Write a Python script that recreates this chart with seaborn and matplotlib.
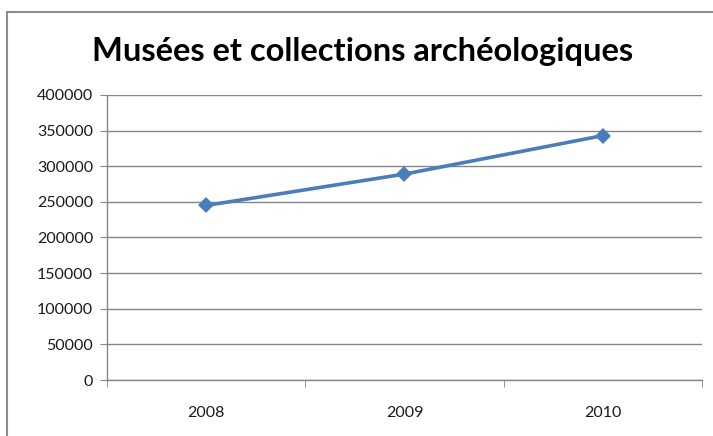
import matplotlib.pyplot as plt
import seaborn as sns
from matplotlib.patches import Rectangle
from matplotlib.ticker import FixedLocator

# Data
years = ['2008', '2009', '2010']
visiteurs = [245000, 289000, 343000]
title = 'Musées et collections archéologiques'

sns.set_style('white')
plt.rcParams['font.family'] = ['Lato', 'DejaVu Sans']

fig = plt.figure(figsize=(7.13, 4.36), dpi=100)

# Cadre du graphique (style Excel)
fig.patches.append(Rectangle((7 / 713, -0.1), 1.2, (436 - 12) / 436 + 0.1,
                             transform=fig.transFigure, fill=False,
                             edgecolor='#8c8c8c', linewidth=1.5))

ax = fig.add_axes([107 / 713, 1 - 380 / 436, (702 - 107) / 713, (380 - 95) / 436])

sns.lineplot(x=years, y=visiteurs, ax=ax, sort=False, color='#4a7ebb',
             linewidth=2.6, marker='D', markersize=8, markeredgewidth=0)

# Axes
ax.set_ylim(0, 400000)
ax.set_xlim(-0.5, len(years) - 0.5)
ax.set_yticks(range(0, 400001, 50000))
ax.set_yticklabels([str(v) for v in range(0, 400001, 50000)])
ax.yaxis.grid(True, color='#868686', linewidth=1)
ax.xaxis.grid(False)
ax.set_axisbelow(True)

for side in ['top', 'right']:
    ax.spines[side].set_visible(False)
for side in ['left', 'bottom']:
    ax.spines[side].set_color('#868686')
    ax.spines[side].set_linewidth(1)

ax.tick_params(axis='y', which='major', length=5, color='#868686', direction='out',
               labelsize=11.5, labelcolor='#1a1a1a', pad=5, left=True)
ax.tick_params(axis='x', which='major', length=0, labelsize=11.5,
               labelcolor='#1a1a1a', pad=19)
ax.xaxis.set_minor_locator(FixedLocator([-0.5, 0.5, 1.5, 2.5]))
ax.tick_params(axis='x', which='minor', length=5, color='#868686',
               direction='out', bottom=True)
ax.set_xlabel('')
ax.set_ylabel('')

# Title
fig.text(363 / 713, 1 - 51 / 436, title, ha='center', va='center',
         fontsize=23.5, fontweight='bold', color='black')

fig.savefig('out.png', dpi=100)
